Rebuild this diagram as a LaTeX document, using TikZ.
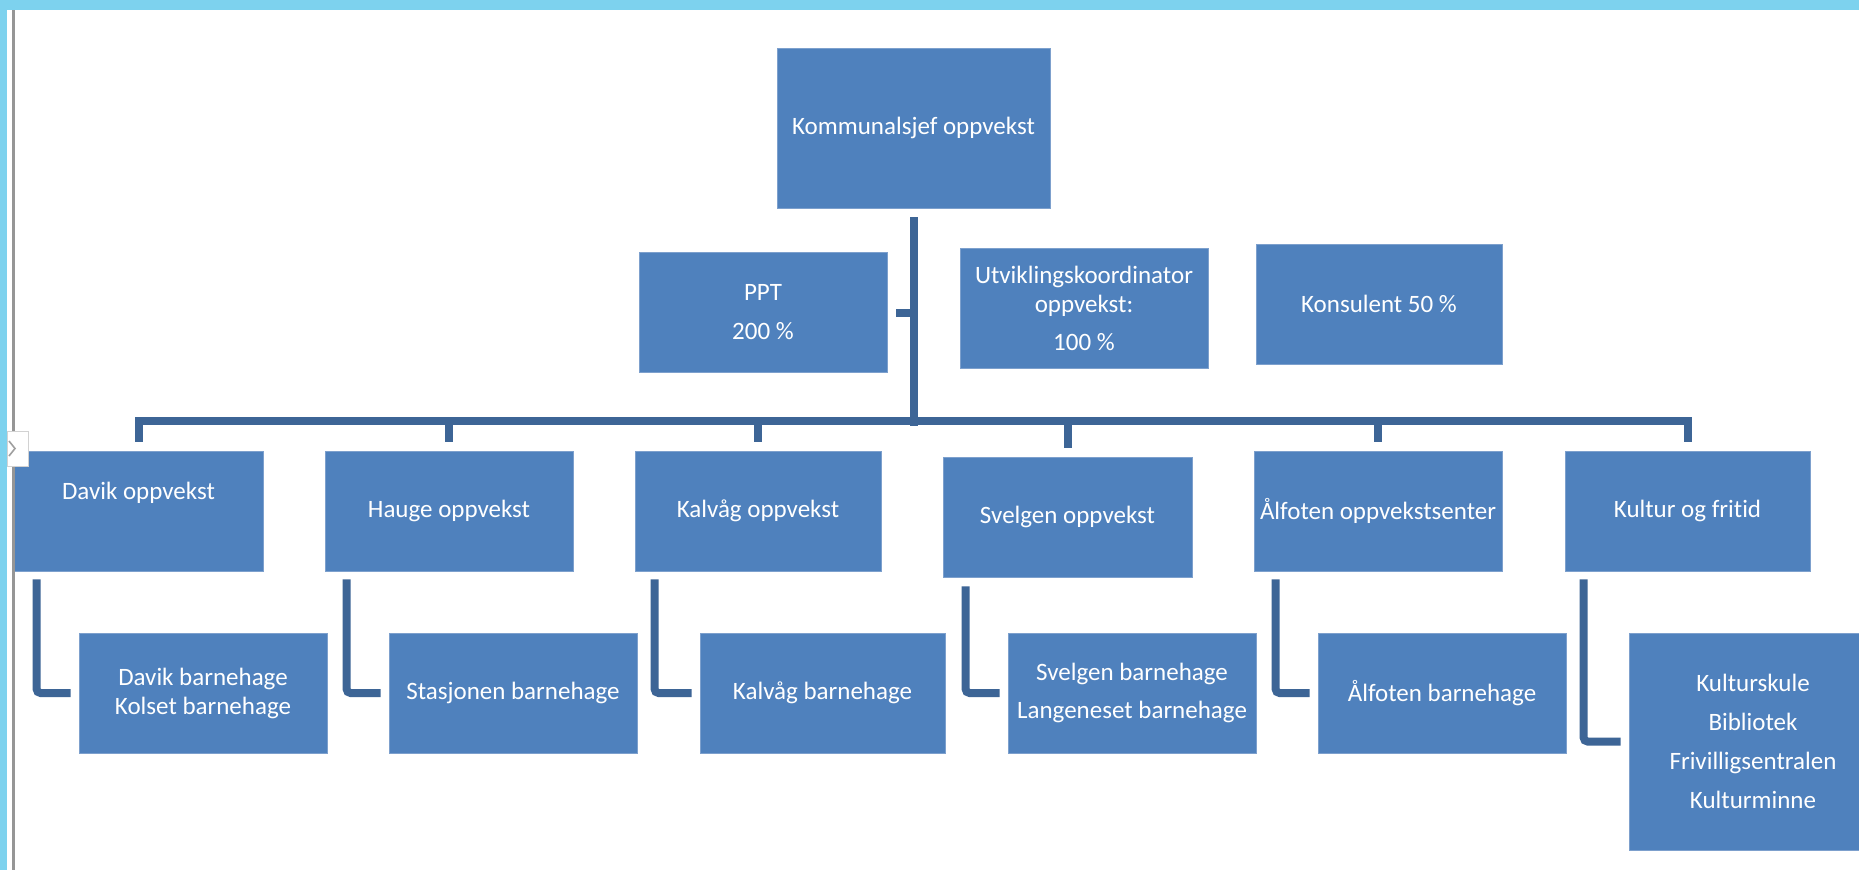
\documentclass[tikz,border=0pt]{standalone}
\usepackage{fontspec}
\setmainfont{Carlito}[Ligatures=NoCommon]
\usetikzlibrary{calc}
\definecolor{boxblue}{RGB}{79,129,189}
\definecolor{boxedge}{RGB}{125,160,205}
\definecolor{linkblue}{RGB}{61,101,150}
\definecolor{cyanframe}{RGB}{125,210,238}
\definecolor{framegray}{RGB}{150,150,150}
\begin{document}
\begin{tikzpicture}[x=1pt,y=-1pt,
  box/.style={rectangle, fill=boxblue, draw=boxedge, line width=0.8pt, inner sep=0pt,
    minimum width=248pt, minimum height=120pt, text=white, align=center,
    font=\fontsize{25}{29}\selectfont},
  txt/.style={text=white, align=center, inner sep=0pt, font=\fontsize{25}{29}\selectfont},
  conn/.style={draw=linkblue, line width=8pt},
  elbow/.style={conn, rounded corners=4pt},
]
\useasboundingbox (0,0) rectangle (1859,870);
\fill[white] (0,0) rectangle (1859,870);

% top level
\node[box, minimum width=273pt, minimum height=160pt] (boss) at (913.5,128) {Kommunalsjef oppvekst};
\node[box] (ppt) at (763,312) {PPT\\[10pt]200 \%};
\node[box] (utv) at (1084,308) {Utviklingskoordinator\\oppvekst:\\[9pt]100 \%};
\node[box, minimum width=246pt] (kons) at (1379,304) {Konsulent 50 \%};

% second level
\node[box, minimum width=249pt] (davik) at (138.5,511) {};
\node[txt] (daviktxt) at (138.5,493) {Davik oppvekst};
\node[box] (hauge) at (449,511) {Hauge oppvekst};
\node[box, minimum width=246pt] (kalvag) at (758,511) {Kalvåg oppvekst};
\node[box, minimum width=249pt] (svelgen) at (1067.5,517) {Svelgen oppvekst};
\node[box] (alfoten) at (1378,511) {Ålfoten oppvekstsenter};
\node[box, minimum width=245pt] (kultur) at (1687.5,511) {Kultur og frit\kern0pt id};

% third level
\node[box] (davikbh) at (203,693) {Davik barnehage\\Kolset barnehage};
\node[box] (stasjonen) at (513,693) {Stasjonen barnehage};
\node[box, minimum width=245pt] (kalvagbh) at (822.5,693) {Kalvåg barnehage};
\node[box] (svelgenbh) at (1132,693) {Svelgen barnehage\\[9pt]Langeneset barnehage};
\node[box] (alfotenbh) at (1442,693) {Ålfoten barnehage};
\node[box, minimum height=217pt] (kulturbh) at (1753,741.5) {Kulturskule\\[10pt]Bibliotek\\[10pt]Frivilligsentralen\\[10pt]Kulturminne};

% connectors
\coordinate (bar) at (913.5,421);
\draw[conn] ($(boss.south)+(0,9)$) -- ($(boss.south |- bar)+(0,5)$);
\draw[conn] ($(ppt.east)+(9,1)$) -- ($(ppt.east -| bar)+(0,1)$);
\draw[conn] ($(davik.north)+(0,-9)$) |- (bar) -| ($(kultur.north)+(0,-9)$);
\foreach \c in {hauge,kalvag,svelgen,alfoten}{
  \draw[conn] ($(\c.north |- bar)+(0,-3)$) -- ($(\c.north)+(0,-9)$);
}

\draw[elbow] ($(davik.south west)+(23,8)$) |- ($(davikbh.west)+(-8,0)$);
\draw[elbow] ($(hauge.south west)+(22,8)$) |- ($(stasjonen.west)+(-8,0)$);
\draw[elbow] ($(kalvag.south west)+(20,8)$) |- ($(kalvagbh.west)+(-8,0)$);
\draw[elbow] ($(svelgen.south west)+(23,9)$) |- ($(svelgenbh.west)+(-8,0)$);
\draw[elbow] ($(alfoten.south west)+(22,8)$) |- ($(alfotenbh.west)+(-8,0)$);
\draw[elbow] ($(kultur.south west)+(19,8)$) |- ($(kulturbh.west)+(-8,0)$);

% window frame
\fill[cyanframe] (0,0) rectangle (1859,10);
\fill[cyanframe] (0,0) rectangle (7,870);
\fill[framegray] (12,10) rectangle (15,870);
\filldraw[fill=white, draw=gray!35, line width=1pt] (7,431) rectangle (28,466);
\draw[gray!75, line width=1.6pt] (9,441) -- (15,448.5) -- (9,456);
\end{tikzpicture}
\end{document}
